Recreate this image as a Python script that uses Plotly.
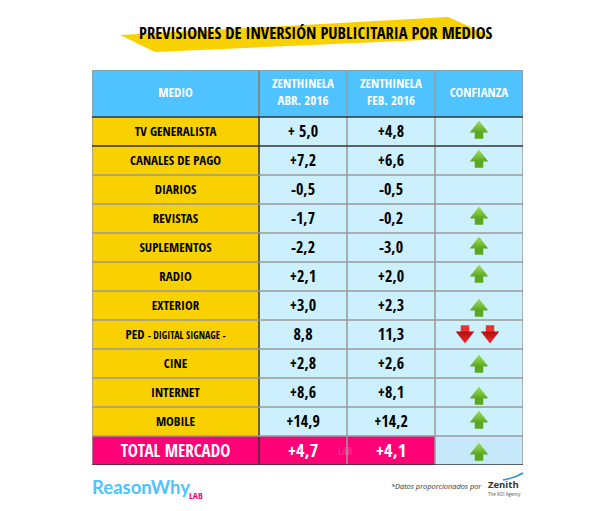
import plotly.graph_objects as go

W, H = 600, 511
FONT = "Open Sans Condensed"

title = "PREVISIONES DE INVERSIÓN PUBLICITARIA POR MEDIOS"
headers = ["MEDIO", "ZENTHINELA<br>ABR. 2016", "ZENTHINELA<br>FEB. 2016", "CONFIANZA"]
medios = ["TV GENERALISTA", "CANALES DE PAGO", "DIARIOS", "REVISTAS", "SUPLEMENTOS", "RADIO", "EXTERIOR",
          'PED <span style="font-size:10px">- DIGITAL SIGNAGE -</span>', "CINE", "INTERNET", "MOBILE", "TOTAL MERCADO"]
abr_2016 = ["+ 5,0", "+7,2", "-0,5", "-1,7", "-2,2", "+2,1", "+3,0", "8,8", "+2,8", "+8,6", "+14,9", "+4,7"]
feb_2016 = ["+4,8", "+6,6", "-0,5", "-0,2", "-3,0", "+2,0", "+2,3", "11,3", "+2,6", "+8,1", "+14,2", "+4,1"]
up_rows = [0, 1, 3, 4, 5, 6, 8, 9, 10, 11]
up_nudge = [-2, -2, -3, -2, -3, 2, 0, 3, -2, 1]
down_rows = [7, 7]
down_slots = [-14, 11]

n = len(medios)
YEL, BLUE, PALE, PINK, PALE2 = "#f9d000", "#4fc3ff", "#cdf0ff", "#ff0077", "#c6e8fb"
GREY, DARK = "#9a9a9a", "#333333"
LEFT, TOP, TW, TH = 92, 70, 431, 395

col_w = [167, 88, 88, 88]
row_h = [47] + [29] * n
xe = [sum(col_w[:i]) for i in range(len(col_w) + 1)]
ye = [sum(row_h[:i]) for i in range(len(row_h) + 1)]
xc = [(a + b) / 2 for a, b in zip(xe, xe[1:])]
yc = [(a + b) / 2 for a, b in zip(ye, ye[1:])]

palette = [BLUE, YEL, PALE, PINK, PALE2]
z = [[0, 0, 0, 0]] + [[1, 2, 2, 2]] * (n - 1) + [[3, 3, 3, 4]]
scale = [[i / 4, c] for i, c in enumerate(palette)]

fig = go.Figure()
fig.add_trace(go.Heatmap(x=xe, y=ye, z=z, zmin=0, zmax=4, colorscale=scale, showscale=False, hoverinfo="skip"))

def texts(x, y, labels, sizes, colors):
    fig.add_trace(go.Scatter(x=x, y=y, text=labels, mode="text", hoverinfo="skip", textposition="middle center",
                             textfont=dict(family=FONT, size=sizes, color=colors, weight="bold")))

texts(xc, [yc[0]] * 4, headers, 13, "white")
body_color = ["#000000"] * (n - 1) + ["white"]
y_body = [v + 1 for v in yc[1:-1]] + [yc[-1] + 2]
texts([xc[0]] * n, y_body, medios, [13] * (n - 1) + [17], body_color)
texts([xc[1]] * n, y_body, abr_2016, [16] * (n - 1) + [18.5], body_color)
texts([xc[2]] * n, y_body, feb_2016, [16] * (n - 1) + [18.5], body_color)

def arrows(xs, ys, direction, dark, light):
    sign = 1 if direction == "up" else -1
    fig.add_trace(go.Scatter(x=xs, y=[v + sign * 5 for v in ys], mode="markers", hoverinfo="skip",
                             marker=dict(symbol="square", size=8.5, color=dark, line_width=0)))
    fig.add_trace(go.Scatter(x=xs, y=[v - sign * 1 for v in ys], mode="markers", hoverinfo="skip",
                             marker=dict(symbol="triangle-" + direction, size=16, color=light, line_width=0,
                                         gradient=dict(type="vertical", color=dark))))

arrows([xc[3]] * len(up_rows), [yc[r + 1] + d for r, d in zip(up_rows, up_nudge)], "up", "#5aa81e", "#a4e05a")
arrows([xc[3] + d for d in down_slots], [yc[r + 1] for r in down_rows], "down", "#f03030", "#b00c0c")

shapes = [dict(type="path", xref="paper", yref="paper", line_width=0, fillcolor=YEL, layer="below",
               path=f"M {120/W} {1-35/H} L {448/W} {1-17/H} L {493/W} {1-37/H} L {155/W} {1-52/H} Z"),
          dict(type="path", xref="paper", yref="paper", line=dict(color="#2a8fd0", width=1.5),
               path=f"M {503/W} {1-480/H} Q {515/W} {1-478/H} {523/W} {1-473/H}")]
for i, v in enumerate(xe):
    shapes.append(dict(type="line", xref="x", yref="y", x0=v, x1=v, y0=0, y1=TH, layer="above",
                       line=dict(color=DARK if i == 1 else GREY, width=1.5)))
    if i == 1:  # the header part of this rule is grey
        shapes.append(dict(type="line", xref="x", yref="y", x0=v, x1=v, y0=0, y1=row_h[0], layer="above",
                           line=dict(color=GREY, width=1.5)))
for i, v in enumerate(ye):
    dark = i in (1, 2, len(ye) - 1)
    shapes.append(dict(type="line", xref="x", yref="y", x0=0, x1=TW, y0=v, y1=v, layer="above",
                       line=dict(color=DARK if dark else GREY, width=1.5)))

def note(x, y, text, size, color, family=FONT, weight="normal", style="normal", anchor="center"):
    return dict(x=x / W, y=1 - y / H, xref="paper", yref="paper", text=text, showarrow=False,
                xanchor=anchor, yanchor="middle",
                font=dict(family=family, size=size, color=color, weight=weight, style=style))

annotations = [
    note(315.5, 33, title, 16.5, "#000000", weight="bold"),
    note(345, 451, "LAB", 10, "rgba(255,255,255,0.18)"),
    note(90, 487, "ReasonWhy", 18.5, "#4fc3ff", family="Lato", weight="bold", anchor="left"),
    note(187, 495, "LAB", 9.5, "#ff0077", anchor="left"),
    note(389, 486, "*Datos proporcionados por", 7.4, "#333333", family="Open Sans", style="italic", anchor="left"),
    note(486, 484, "Zenith", 9.5, "#333333", family="Open Sans", weight="bold", anchor="left"),
    note(486, 494, "The ROI Agency", 4.5, "#555555", family="Open Sans", anchor="left"),
]

ax = dict(visible=False, fixedrange=True)
fig.update_layout(
    width=W, height=H, margin=dict(l=0, r=0, t=0, b=0), showlegend=False,
    paper_bgcolor="white", plot_bgcolor="white",
    xaxis=dict(domain=[LEFT / W, (LEFT + TW) / W], range=[0, TW], **ax),
    yaxis=dict(domain=[1 - (TOP + TH) / H, 1 - TOP / H], range=[TH, 0], **ax),
    shapes=shapes, annotations=annotations,
)
fig.write_html("out.html", config=dict(displayModeBar=False), post_script="document.body.style.margin='0';")
